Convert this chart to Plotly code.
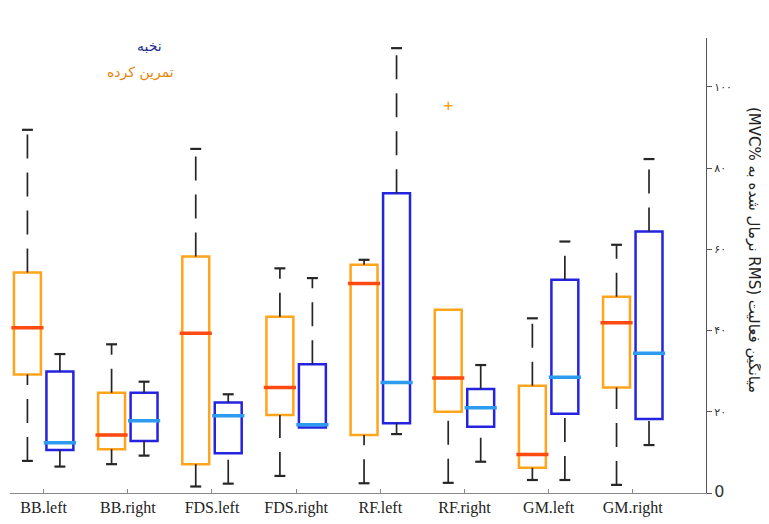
import plotly.graph_objects as go

# ---------------- data ----------------
categories = ["BB.left", "BB.right", "FDS.left", "FDS.right",
              "RF.left", "RF.right", "GM.left", "GM.right"]

# trained group (تمرین کرده) - orange
trained_lower = [7.9, 7.1, 1.6, 4.2, 2.4, 2.5, 3.2, 2.0]
trained_q1 = [29.2, 10.8, 7.1, 19.2, 14.3, 20.0, 6.2, 26.0]
trained_median = [40.7, 14.3, 39.3, 26.0, 51.6, 28.3, 9.5, 41.9]
trained_q3 = [54.3, 24.7, 58.2, 43.4, 56.2, 45.1, 26.4, 48.3]
trained_upper = [89.4, 36.6, 84.7, 55.3, 57.4, 45.1, 43.0, 61.1]
trained_outlier_cat = ["RF.right"]
trained_outlier_val = [95.3]

# elite group (نخبه) - blue
elite_lower = [6.5, 9.2, 2.3, 16.1, 14.5, 7.7, 3.2, 11.8]
elite_q1 = [10.6, 12.8, 9.8, 16.1, 17.2, 16.3, 19.5, 18.2]
elite_median = [12.4, 17.8, 19.0, 16.8, 27.2, 21.0, 28.5, 34.4]
elite_q3 = [29.9, 24.7, 22.3, 31.7, 73.8, 25.6, 52.5, 64.4]
elite_upper = [34.2, 27.4, 24.3, 52.9, 109.5, 31.5, 61.9, 82.2]

y_tickvals = [0, 20, 40, 60, 80, 100]
y_ticktext = ['<span style="font-size:16px">0</span>', "۲۰", "۴۰", "۶۰", "۸۰", "۱۰۰"]

label_elite = "نخبه"
label_trained = "تمرین کرده"
y_title = "\u202Bمیانگین فعالیت (RMS نرمال شده به MVC%\u200E)\u202C"

# ---------------- style ----------------
ORANGE = "#FFA41B"
ORANGE_MED = "#FF4A12"
BLUE = "#2323E0"
BLUE_MED = "#2D9BF0"
WHISKER = "#262626"
OFFSET = 0.193
BOXW = 0.32
CAPW = 0.065
# the page body has an 8px default margin; compensate so the plot lands where the reference is
SH = 8
L, R, T, B = 10 - SH, 63 + SH, 38 - SH, 31 + SH
PW = 769 - L - R
PH = 524 - T - B

idx = list(range(len(categories)))
fig = go.Figure()


def add_group(offset, lower, q1, med, q3, upper, color, medcolor):
    xs = [i + offset for i in idx]
    wx, wy, cx, cy = [], [], [], []
    for x, lo, a, b, hi in zip(xs, lower, q1, q3, upper):
        if hi > b:
            wx += [x, x, None]
            wy += [b, hi, None]
            cx += [x - CAPW, x + CAPW, None]
            cy += [hi, hi, None]
        if lo < a:
            wx += [x, x, None]
            wy += [lo, a, None]
            cx += [x - CAPW, x + CAPW, None]
            cy += [lo, lo, None]
    # whiskers (dashed)
    fig.add_trace(go.Scatter(x=wx, y=wy, mode="lines",
                             line=dict(color=WHISKER, width=1.7, dash="24px,14px"),
                             hoverinfo="skip", showlegend=False))
    # whisker caps
    fig.add_trace(go.Scatter(x=cx, y=cy, mode="lines",
                             line=dict(color=WHISKER, width=2.2),
                             hoverinfo="skip", showlegend=False))
    # boxes
    fig.add_trace(go.Box(x=xs, q1=q1, median=med, q3=q3,
                         lowerfence=q1, upperfence=q3,
                         width=BOXW, line=dict(color=color, width=2.5),
                         fillcolor="rgba(255,255,255,0)",
                         boxpoints=False, showlegend=False, hoverinfo="skip"))
    # medians
    fig.add_trace(go.Scatter(x=xs, y=med, mode="markers",
                             marker=dict(symbol="line-ew-open", size=23, color=medcolor,
                                         line=dict(width=3.5)),
                             hoverinfo="skip", showlegend=False))


add_group(-OFFSET, trained_lower, trained_q1, trained_median, trained_q3,
          trained_upper, ORANGE, ORANGE_MED)
add_group(OFFSET, elite_lower, elite_q1, elite_median, elite_q3,
          elite_upper, BLUE, BLUE_MED)

# outlier
fig.add_trace(go.Scatter(
    x=[categories.index(c) - OFFSET for c in trained_outlier_cat],
    y=trained_outlier_val, mode="markers",
    marker=dict(symbol="cross-thin-open", size=6, color=ORANGE, line=dict(width=1.5)),
    hoverinfo="skip", showlegend=False))


def px_x(px):
    return (px - SH - L) / PW


def px_y(py):
    return (524 - B - (py - SH)) / PH


fig.update_layout(
    width=769, height=524,
    margin=dict(l=L, r=R, t=T, b=B),
    paper_bgcolor="white", plot_bgcolor="white",
    xaxis=dict(range=[-0.40, 7.87], tickvals=idx, ticktext=categories,
               showline=True, linecolor="#8a8a8a", linewidth=1,
               ticks="inside", ticklen=4, tickcolor="#8a8a8a",
               tickfont=dict(family="Liberation Serif", size=16, color="#222"),
               showgrid=False, zeroline=False),
    yaxis=dict(side="right", range=[0, 112], tickvals=y_tickvals, ticktext=y_ticktext,
               showline=True, linecolor="#555", linewidth=1.2,
               ticks="outside", ticklen=5, tickcolor="#555",
               tickfont=dict(family="DejaVu Sans", size=11, color="#333"),
               showgrid=False, zeroline=False),
    annotations=[
        dict(text=label_elite, xref="paper", yref="paper",
             x=px_x(135), y=px_y(36), showarrow=False,
             font=dict(family="DejaVu Sans", size=14, color="#1d2d8c")),
        dict(text=label_trained, xref="paper", yref="paper",
             x=px_x(105), y=px_y(62), showarrow=False,
             font=dict(family="DejaVu Sans", size=14, color="#E8860A")),
        dict(text=y_title, xref="paper", yref="paper",
             x=px_x(765), y=px_y(250), showarrow=False,
             textangle=90,
             font=dict(family="DejaVu Sans", size=15, color="#222")),
    ],
)

fig.write_html("out.html")
